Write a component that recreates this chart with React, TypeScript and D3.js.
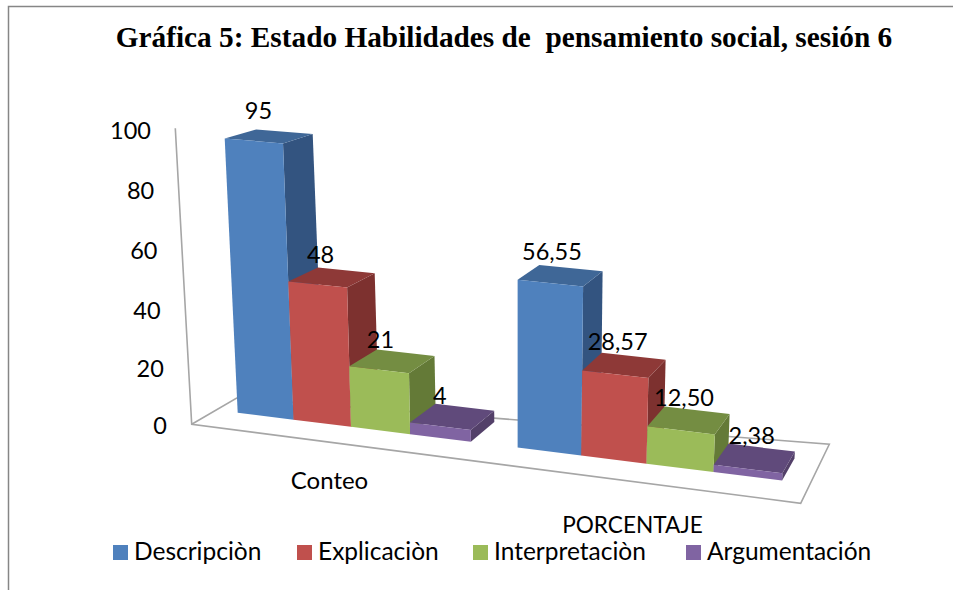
import React from "react";
import * as d3 from "d3";

const title = "Gráfica 5: Estado Habilidades de  pensamiento social, sesión 6";
const categories = ["Conteo", "PORCENTAJE"];
const seriesNames = ["Descripciòn", "Explicaciòn", "Interpretaciòn", "Argumentación"];
const conteo = [95, 48, 21, 4];
const porcentaje = [56.55, 28.57, 12.5, 2.38];
const dataLabels = [["95", "48", "21", "4"], ["56,55", "28,57", "12,50", "2,38"]];
const yTicks = [0, 20, 40, 60, 80, 100];

const front = ["#4F81BD", "#C0504D", "#9BBB59", "#8064A2"];
const top = ["#3F6797", "#8E3937", "#748D42", "#604A7B"];
const side = ["#335480", "#7D312F", "#647A37", "#534069"];

const FONT = "Lato, Carlito, Calibri, sans-serif";

// pseudo-3D camera of the chart
const groupGap = 0.75;
const edgeX = (e: number) => 237.7 + 55 * e + 0.825 * e * e;
const baseY = d3.scaleLinear().domain([237.7, 783.3]).range([412.7, 480.7]);
const unit = d3.scaleLinear().domain([237.7, 783.3]).range([2.83, 3.03]);
const depthX = d3.scaleLinear().domain([283, 783]).range([30, 12.4]);
const depthY = (x: number, v: number) => -(19.7 + 0.0073 * (x - 470) - 0.094 * v);
const vanish = { x: 517, y: 6300 };
const labelDx = d3.scaleLinear().domain([284, 465, 571, 762]).range([-26, -25, -19, -10]);

type P = [number, number];
const foot = (e: number): P => {
  const x = edgeX(e);
  return [x, baseY(x)];
};
const lift = (p: P, v: number): P => {
  const h = (unit(p[0]) + 0.0006 * v) * v;
  return [p[0] - ((vanish.x - p[0]) * h) / (vanish.y - p[1]), p[1] - h];
};
const back = (p: P, footX: number, v: number): P => [p[0] + depthX(footX), p[1] + depthY(footX, v)];
const poly = (pts: P[]) => pts.map((p) => p.map((n) => n.toFixed(1)).join(",")).join(" ");

const floorFL: P = [191.7, 424.3];
const floorFR: P = [800.7, 503.3];
const floorBR: P = [829.3, 444.3];
const floorBL: P = [236.7, 398];
const axisTop: P = [175.3, 128.3];

const tickY = d3.scalePow().exponent(1.03).domain([0, 100]).range([425, 130]);
const tickX = d3.scaleLinear().domain([0, 100]).range([167, 151]);

const groups = [conteo, porcentaje];
const catX = [329.5, 632.5];
const catY = [489, 533];
const catSize = [24, 22.6];
const legendX = [113, 297, 473, 686];

export default function App() {
  return (
    <svg
      width={953}
      height={590}
      style={{ position: "absolute", left: 0, top: 0, background: "#fff" }}
    >
      <path d="M8.5,590 V6.5 H953" fill="none" stroke="#868686" strokeWidth={1.5} />
      <text
        x={504}
        y={47}
        textAnchor="middle"
        fontFamily="'Liberation Serif', serif"
        fontWeight="bold"
        fontSize={29.3}
        style={{ whiteSpace: "pre" }}
      >
        {title}
      </text>

      <g fill="none" stroke="#A6A6A6" strokeWidth={1.6}>
        <polyline points={poly([axisTop, floorFL, floorFR, floorBR, floorBL, floorFL])} />
      </g>

      {yTicks.map((t) => (
        <text key={t} x={tickX(t)} y={tickY(t) + 8.5} textAnchor="end" fontFamily={FONT} fontSize={23.5} fill="#000">
          {t}
        </text>
      ))}

      {groups.map((vals, g) =>
        vals.map((v, s) => {
          const e0 = g * (4 + groupGap) + s;
          const bl = foot(e0);
          const br = foot(e0 + 1);
          const tl = lift(bl, v);
          const tr = lift(br, v);
          const backTL = back(tl, bl[0], v);
          const backTR = back(tr, br[0], v);
          const backBR = back(br, br[0], 0);
          return (
            <g key={`${g}-${s}`}>
              <polygon points={poly([br, tr, backTR, backBR])} fill={side[s]} />
              <polygon points={poly([tl, tr, backTR, backTL])} fill={top[s]} />
              <polygon points={poly([bl, br, tr, tl])} fill={front[s]} />
            </g>
          );
        })
      )}

      {groups.map((vals, g) =>
        vals.map((v, s) => {
          const e0 = g * (4 + groupGap) + s;
          const bl = foot(e0);
          const br = foot(e0 + 1);
          const tl = back(lift(bl, v), bl[0], v);
          const tr = back(lift(br, v), br[0], v);
          const mx = (tl[0] + tr[0]) / 2;
          return (
            <text
              key={`${g}-${s}`}
              x={mx + labelDx(mx)}
              y={(tl[1] + tr[1]) / 2 - 3 - 0.1 * v}
              textAnchor="middle"
              fontFamily={FONT}
              fontSize={23.5}
              fill="#000"
            >
              {dataLabels[g][s]}
            </text>
          );
        })
      )}

      {categories.map((c, i) => (
        <text key={c} x={catX[i]} y={catY[i]} textAnchor="middle" fontFamily={FONT} fontSize={catSize[i]} fill="#000">
          {c}
        </text>
      ))}

      {seriesNames.map((n, i) => (
        <g key={n}>
          <rect x={legendX[i]} y={545} width={15} height={15} fill={front[i]} />
          <text x={legendX[i] + 21} y={560} fontFamily={FONT} fontSize={24.5} fill="#000">
            {n}
          </text>
        </g>
      ))}
    </svg>
  );
}
